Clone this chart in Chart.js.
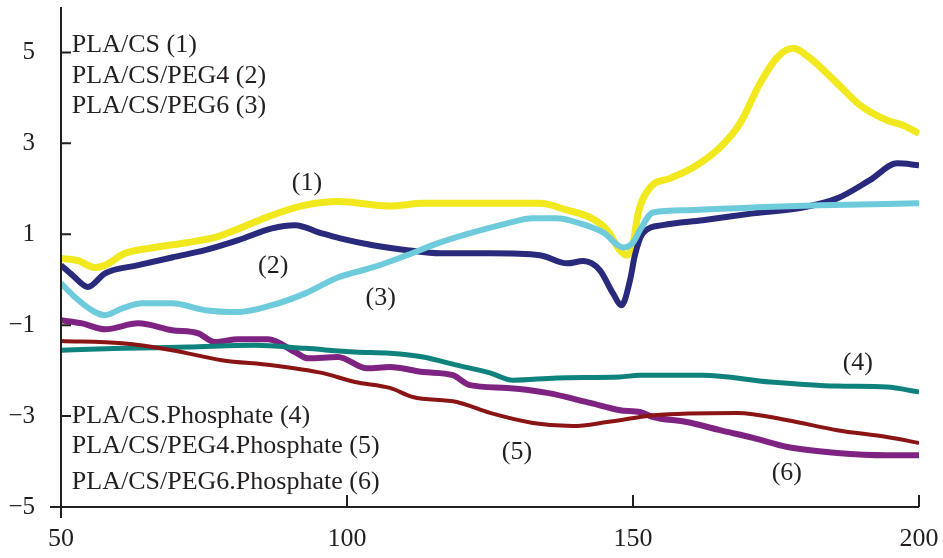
<!DOCTYPE html>
<html>
<head>
<meta charset="utf-8">
<title>PLA/CS curves</title>
<script src="https://cdn.jsdelivr.net/npm/chart.js@4"></script>
<style>
  html, body { margin: 0; padding: 0; background: #fff; }
  #wrap { width: 943px; height: 558px; }
</style>
</head>
<body>
<div id="wrap"><canvas id="chart"></canvas></div>
<script>
// values
const xTicks = [50, 100, 150, 200];
const yTicks = [-5, -3, -1, 1, 3, 5];

const x1 = [50, 53, 55.9, 57.7, 61.2, 66.4, 72.2, 76.9, 81.6, 86.9, 92.7, 98.4, 107.5, 113.3, 122, 133.7, 138.5, 142.5, 145.5, 147.7, 149, 150, 150.9, 153, 156.5, 160.5, 165.2, 168.7, 172.2, 175.2, 178, 181, 185.7, 189.7, 194.4, 197.2, 200];
const y1 = [0.47, 0.42, 0.27, 0.32, 0.58, 0.71, 0.82, 0.93, 1.15, 1.42, 1.64, 1.72, 1.62, 1.68, 1.68, 1.68, 1.53, 1.37, 1.09, 0.65, 0.54, 0.8, 1.46, 2.03, 2.23, 2.47, 2.91, 3.44, 4.32, 4.89, 5.09, 4.87, 4.32, 3.84, 3.51, 3.4, 3.22];

const x2 = [50, 52, 54.7, 57.7, 63.5, 69.4, 75.2, 81, 86.9, 90.9, 95.6, 98.8, 104.5, 110.5, 116.3, 125, 133.7, 138.5, 141.3, 144.2, 146.5, 148, 149.5, 150.3, 151.7, 155.2, 162.2, 171, 179.7, 185.7, 191.4, 196.2, 200];
const y2 = [0.32, 0.1, -0.16, 0.14, 0.32, 0.49, 0.65, 0.87, 1.13, 1.2, 1.02, 0.91, 0.76, 0.65, 0.58, 0.58, 0.54, 0.36, 0.41, 0.21, -0.3, -0.56, 0, 0.52, 1.02, 1.2, 1.31, 1.46, 1.59, 1.79, 2.19, 2.56, 2.52];

const x3 = [50, 52.4, 55.9, 57.7, 60.7, 64.2, 69.4, 75.2, 81, 86.9, 92.7, 98.4, 104.5, 110.5, 116.3, 122, 128, 132.5, 136.7, 140.7, 144.8, 148.3, 150, 151.2, 153.5, 159.4, 171, 182.7, 200];
const y3 = [-0.08, -0.38, -0.71, -0.78, -0.63, -0.52, -0.52, -0.67, -0.71, -0.56, -0.3, 0.05, 0.27, 0.54, 0.82, 1.04, 1.24, 1.35, 1.35, 1.24, 1.04, 0.71, 0.82, 1.09, 1.48, 1.53, 1.59, 1.64, 1.68];

const x4 = [50, 60.7, 72.2, 83.9, 92.7, 101.4, 107.5, 113.3, 119.2, 125, 129, 136.7, 147.7, 151.2, 162.2, 174, 185.7, 194.4, 200];
const y4 = [-1.55, -1.51, -1.48, -1.44, -1.51, -1.59, -1.62, -1.7, -1.88, -2.05, -2.21, -2.16, -2.14, -2.1, -2.1, -2.25, -2.34, -2.36, -2.47];

const x5 = [50, 60.7, 69.4, 78.1, 86.9, 95.6, 101.4, 107.5, 111.5, 119.2, 125, 132.5, 139.5, 145.5, 151.2, 153.5, 168.2, 177, 185.7, 194.4, 200];
const y5 = [-1.35, -1.4, -1.55, -1.77, -1.88, -2.05, -2.25, -2.38, -2.58, -2.69, -2.93, -3.15, -3.22, -3.13, -3.02, -2.98, -2.93, -3.09, -3.31, -3.46, -3.59];

const x6 = [50, 53.7, 57.7, 63.5, 69.4, 74, 76.9, 81, 86.2, 90.9, 93.2, 98.4, 103.5, 107.5, 113.3, 118.5, 121.5, 128, 135, 142.5, 147.7, 151.2, 153.5, 159.4, 165.2, 171, 177, 185.7, 194.4, 200];
const y6 = [-0.89, -0.96, -1.09, -0.96, -1.11, -1.18, -1.37, -1.31, -1.31, -1.59, -1.73, -1.7, -1.95, -1.92, -2.03, -2.1, -2.32, -2.38, -2.49, -2.71, -2.87, -2.91, -3.02, -3.13, -3.31, -3.48, -3.68, -3.81, -3.86, -3.86];

const seriesNames = ['PLA/CS (1)', 'PLA/CS/PEG4 (2)', 'PLA/CS/PEG6 (3)',
  'PLA/CS.Phosphate (4)', 'PLA/CS/PEG4.Phosphate (5)', 'PLA/CS/PEG6.Phosphate (6)'];

// text placed on the plot, in data units
const notes = [
  { text: seriesNames[0], x: 51.9, y: 5.15, align: 'left' },
  { text: seriesNames[1], x: 51.9, y: 4.47, align: 'left' },
  { text: seriesNames[2], x: 51.9, y: 3.81, align: 'left' },
  { text: seriesNames[3], x: 51.9, y: -3.0, align: 'left' },
  { text: seriesNames[4], x: 51.9, y: -3.66, align: 'left' },
  { text: seriesNames[5], x: 51.9, y: -4.45, align: 'left' },
  { text: '(1)', x: 93.0, y: 2.12, align: 'center' },
  { text: '(2)', x: 87.1, y: 0.3, align: 'center' },
  { text: '(3)', x: 105.9, y: -0.41, align: 'center' },
  { text: '(4)', x: 189.3, y: -1.84, align: 'center' },
  { text: '(5)', x: 129.7, y: -3.79, align: 'center' },
  { text: '(6)', x: 176.9, y: -4.25, align: 'center' },
];

const FONT = '"Liberation Serif", "Times New Roman", serif';
const INK = '#231f20';

function pts(xs, ys) {
  return xs.map((x, i) => ({ x, y: ys[i] }));
}

function line(label, xs, ys, color, width, order) {
  return {
    label,
    data: pts(xs, ys),
    borderColor: color,
    backgroundColor: color,
    borderWidth: width,
    pointRadius: 0,
    fill: false,
    cubicInterpolationMode: 'monotone',
    order,
  };
}

const datasets = [
  line(seriesNames[0], x1, y1, '#f2e81e', 7, 5),
  line(seriesNames[1], x2, y2, '#2a2a7c', 6, 3),
  line(seriesNames[2], x3, y3, '#6dcbdc', 6, 2),
  line(seriesNames[3], x4, y4, '#0f827e', 5, 4),
  line(seriesNames[4], x5, y5, '#8b1414', 4, 1),
  line(seriesNames[5], x6, y6, '#7f2382', 6, 6),
];

// axis lines with inward tick marks, like the original figure
const axesPlugin = {
  id: 'axes',
  afterDatasetsDraw(chart) {
    const { ctx, chartArea, scales } = chart;
    const xs = scales.x, ys = scales.y;
    ctx.save();
    ctx.strokeStyle = INK;
    ctx.lineWidth = 2;
    ctx.beginPath();
    const x0 = xs.getPixelForValue(xTicks[0]);
    const yb = chartArea.bottom;
    ctx.moveTo(x0, chartArea.top);
    ctx.lineTo(x0, yb + 11);
    ctx.moveTo(x0 - 11, yb);
    ctx.lineTo(chartArea.right, yb);
    yTicks.forEach(v => {
      const p = ys.getPixelForValue(v);
      ctx.moveTo(x0, p);
      ctx.lineTo(x0 + 10, p);
    });
    xTicks.slice(1).forEach(v => {
      const p = xs.getPixelForValue(v);
      ctx.moveTo(p, yb);
      ctx.lineTo(p, yb - 12);
    });
    ctx.stroke();
    ctx.restore();
  },
  afterDraw(chart) {
    const { ctx, scales } = chart;
    ctx.save();
    ctx.fillStyle = INK;
    ctx.font = '26px ' + FONT;
    ctx.textBaseline = 'middle';
    notes.forEach(n => {
      ctx.textAlign = n.align;
      ctx.fillText(n.text, scales.x.getPixelForValue(n.x), scales.y.getPixelForValue(n.y));
    });
    ctx.restore();
  },
};

new Chart(document.getElementById('chart'), {
  type: 'line',
  data: { datasets },
  plugins: [axesPlugin],
  options: {
    responsive: true,
    maintainAspectRatio: false,
    animation: false,
    layout: { padding: { top: 7, right: 24, left: 0, bottom: 0 } },
    plugins: { legend: { display: false }, tooltip: { enabled: false } },
    scales: {
      x: {
        type: 'linear',
        min: 50,
        max: 200,
        afterBuildTicks: s => { s.ticks = xTicks.map(v => ({ value: v })); },
        afterFit: s => { s.height = 51; s.paddingLeft = 0; s.paddingRight = 0; },
        grid: { display: false },
        border: { display: false },
        ticks: { color: INK, font: { family: FONT, size: 26 }, padding: 9, maxRotation: 0 },
      },
      y: {
        min: -5,
        max: 6,
        afterBuildTicks: s => { s.ticks = yTicks.map(v => ({ value: v })); },
        afterFit: s => { s.width = 61; s.paddingTop = 0; s.paddingBottom = 0; },
        grid: { display: false },
        border: { display: false },
        ticks: {
          color: INK,
          font: { family: FONT, size: 25 },
          padding: 18,
          callback: v => (v < 0 ? '\u2212' + Math.abs(v) : String(v)),
        },
      },
    },
  },
});
</script>
</body>
</html>
